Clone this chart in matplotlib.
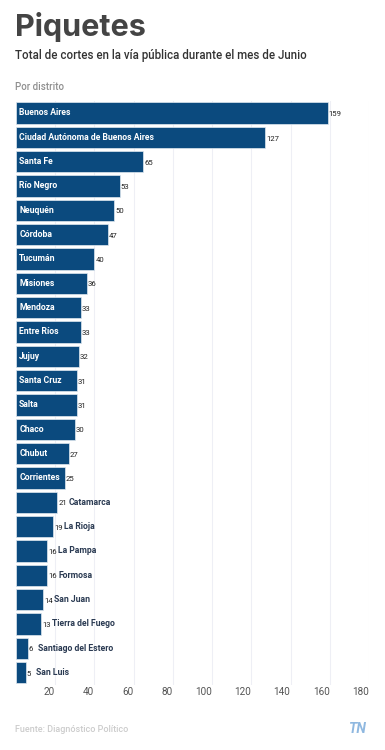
import matplotlib
matplotlib.use("Agg")
import matplotlib.pyplot as plt

distritos = ["Buenos Aires", "Ciudad Autónoma de Buenos Aires", "Santa Fe", "Río Negro",
             "Neuquén", "Córdoba", "Tucumán", "Misiones", "Mendoza", "Entre Ríos", "Jujuy",
             "Santa Cruz", "Salta", "Chaco", "Chubut", "Corrientes", "Catamarca", "La Rioja",
             "La Pampa", "Formosa", "San Juan", "Tierra del Fuego", "Santiago del Estero",
             "San Luis"]
cortes = [159, 127, 65, 53, 50, 47, 40, 36, 33, 33, 32, 31, 31, 30, 27, 25, 21, 19,
          16, 16, 14, 13, 6, 5]
xticks = [20, 40, 60, 80, 100, 120, 140, 160, 180]

W, H = 385, 750
fig = plt.figure(figsize=(W / 100, H / 100), dpi=100)
fig.patch.set_facecolor("white")

left = 16 / W
right = 369 / W
top_px, bot_px = 100.8, 684.7
ax = fig.add_axes([left, 1 - bot_px / H, right - left, (bot_px - top_px) / H])

bar_color = "#0b4a7e"
y = list(range(len(distritos)))
ax.barh(y, cortes, height=0.88, color=bar_color, edgecolor="#dfe8f0", linewidth=0.5, zorder=2)
ax.set_xlim(0, 180)
ax.set_ylim(len(distritos) - 0.5, -0.5)

for i, (name, v) in enumerate(zip(distritos, cortes)):
    ax.text(v + 0.5, i + 0.05, str(v), va="center", ha="left", fontsize=5.6,
            color="#222222", family="Roboto", zorder=3)
    if v >= 25:
        ax.text(1.6, i, name, va="center", ha="left", fontsize=6.2, color="white",
                family="Roboto", fontweight="bold", zorder=3)
    else:
        off = 5.6 if v >= 10 else 5.0
        ax.text(v + off, i, name, va="center", ha="left", fontsize=6.2, color="#2a3a52",
                family="Roboto", fontweight="bold", zorder=3)

ax.set_xticks(xticks)
ax.set_xticklabels([str(t) for t in xticks])
for lbl in ax.get_xticklabels():
    lbl.set_ha("right")
    lbl.set_family("Roboto")
ax.tick_params(axis="x", length=0, pad=2, labelsize=7.2, labelcolor="#555555")
ax.set_yticks([])
ax.xaxis.grid(True, color="#eeeff5", linewidth=0.8, zorder=0)
ax.set_axisbelow(True)
for s in ax.spines.values():
    s.set_visible(False)

fig.text(15 / W, 1 - 27 / H, "Piquetes", fontsize=22, fontweight="bold",
         color="#444444", family="Inter", va="center", ha="left")
fig.text(15 / W, 1 - 55 / H, "Total de cortes en la vía pública durante el mes de Junio",
         fontsize=8.3, color="#333333", family="Roboto", fontweight="medium",
         va="center", ha="left")
fig.text(15 / W, 1 - 87 / H, "Por distrito", fontsize=7, color="#8f8f8f",
         family="Roboto", fontweight="medium", va="center", ha="left")
fig.text(15 / W, 1 - 729 / H, "Fuente: Diagnóstico Político", fontsize=6.5,
         color="#cccccc", family="Roboto", fontweight="medium", va="center", ha="left")
fig.text(366 / W, 1 - 729 / H, "TN", fontsize=10, fontweight="bold", style="italic",
         color="#8fb8e0", family="Roboto", va="center", ha="right")

fig.savefig("out.png", dpi=100, facecolor="white")
